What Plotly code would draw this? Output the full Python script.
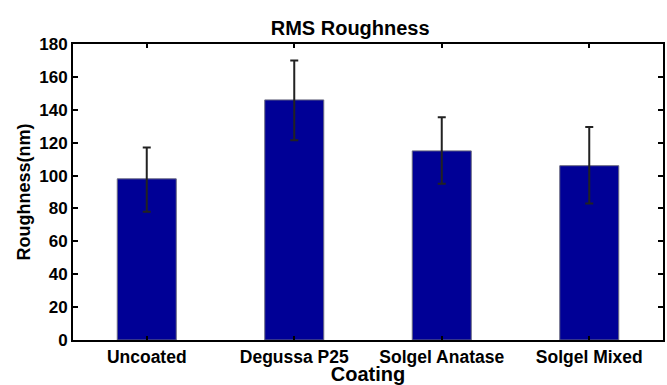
import plotly.graph_objects as go

categories = ["Uncoated", "Degussa P25", "Solgel Anatase", "Solgel Mixed"]
roughness = [98, 146, 115, 106]
err_plus = [19, 24, 20.5, 23.5]
err_minus = [20, 24.5, 20, 23]

positions = [1, 2, 3, 4]

fig = go.Figure()
fig.add_trace(go.Bar(
    x=positions, y=roughness, width=0.4,
    marker=dict(color="#000096", line=dict(color="#6a6a80", width=1)),
    error_y=dict(type="data", symmetric=False, array=err_plus, arrayminus=err_minus,
                 color="#222222", thickness=2, width=4),
))

font_family = "Liberation Sans, Arial, sans-serif"
fig.update_layout(
    width=667, height=385,
    margin=dict(l=73, r=2, t=44, b=45),
    paper_bgcolor="white", plot_bgcolor="white",
    showlegend=False,
    title=dict(text="<b>RMS Roughness</b>", x=0.525, xanchor="center", y=0.928, yanchor="middle",
               font=dict(family=font_family, size=20, color="black")),
    font=dict(family=font_family, color="black"),
)
fig.update_xaxes(
    range=[0.5, 4.5], tickmode="array", tickvals=positions,
    ticktext=["<b>%s</b>" % c for c in categories],
    tickfont=dict(size=17.5, color="black"),
    showline=True, linecolor="black", linewidth=2, mirror="ticks",
    ticks="inside", ticklen=4, tickcolor="black", tickwidth=1.5,
    showgrid=False, zeroline=False,
    title=dict(text="<b>Coating</b>", font=dict(size=20, color="black"), standoff=0),
)
fig.update_yaxes(
    range=[0, 180], tickmode="array", tickvals=list(range(0, 181, 20)),
    ticktext=["<b>%d</b>" % v for v in range(0, 181, 20)],
    tickfont=dict(size=17, color="black"),
    showline=True, linecolor="black", linewidth=2, mirror="ticks",
    ticks="inside", ticklen=5, tickcolor="black", tickwidth=1.5,
    showgrid=False, zeroline=False,
    title=dict(text="<b>Roughness(nm)</b>", font=dict(size=18, color="black"), standoff=4),
)

fig.write_html("out.html")
